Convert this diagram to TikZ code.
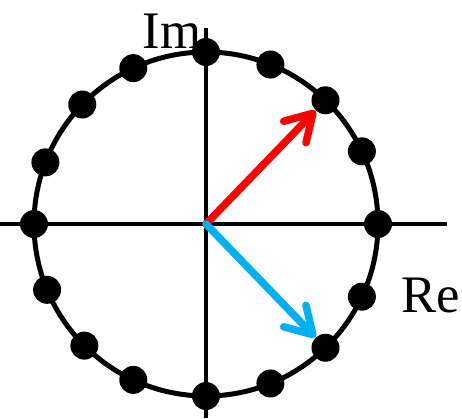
\documentclass[tikz,border=0pt]{standalone}
\usepackage{fontspec}
\setmainfont{Liberation Serif}
\usetikzlibrary{arrows.meta,positioning}
\definecolor{arrowblue}{RGB}{0,176,240}

\begin{document}
\begin{tikzpicture}[
    axis line/.style={draw, line width=0.08cm},
    unit circle/.style={draw, line width=0.1cm},
    root dot/.style={circle, fill=black, inner sep=0pt, minimum size=0.56cm},
    root arrow/.style={line width=0.15cm, line cap=round,
      -{Straight Barb[length=0.52cm, width=0.62cm, round]}},
    axis label/.style={font=\fontsize{30}{35}\selectfont, inner sep=0pt}
  ]
  \useasboundingbox (-4.12,-3.88) rectangle (5.12,4.48);

  % Axes and circle
  \coordinate (o) at (0,0);
  \coordinate (xl) at (-4.12,0);
  \coordinate (xr) at (4.82,0);
  \coordinate (yb) at (0,-3.88);
  \coordinate (yt) at (0,3.92);
  \draw[axis line] (xl) -- (xr);
  \draw[axis line] (yb) -- (yt);
  \draw[unit circle] (o) circle (3.44cm);

  % Roots of unity
  \foreach \a [count=\k from 0] in {90,68,46,25,0,-25,-46,-68,-90,-115,-135,-157.5,180,159,136,115}
    \node[root dot] (p\k) at (\a:3.44cm) {};

  % Arrows
  \draw[root arrow, red] (o) -- (p2);
  \draw[root arrow, arrowblue] (o) -- (p6);

  % Labels
  \node[axis label] (im) at (-0.68,3.86) {Im};
  \node[axis label] (re) at (4.5,-1.42) {Re};
\end{tikzpicture}
\end{document}
